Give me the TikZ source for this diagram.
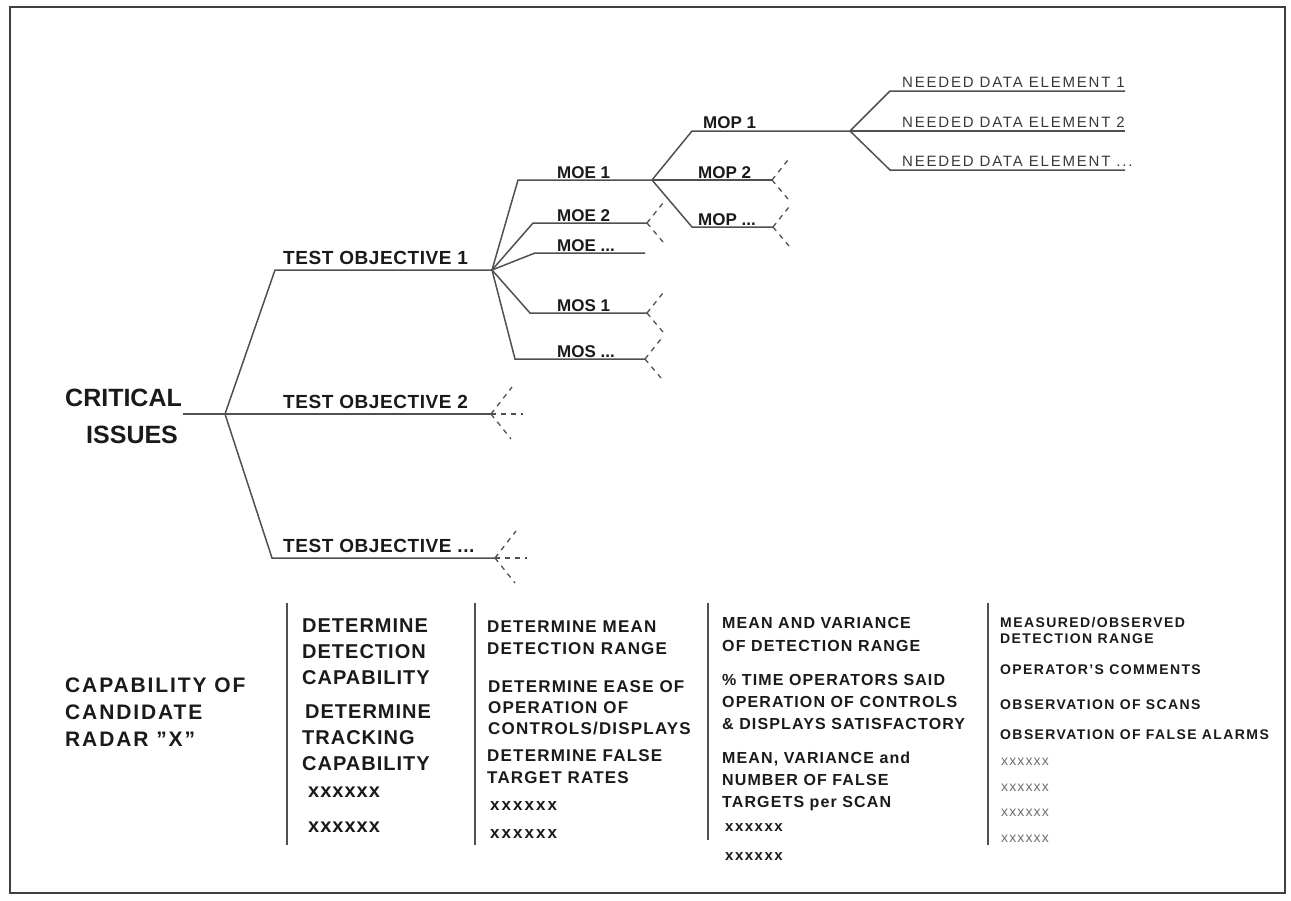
\documentclass[tikz,border=0pt]{standalone}
\usepackage{fontspec}
\setmainfont{Liberation Sans}[Ligatures=ResetAll]
\definecolor{ln}{HTML}{505050}
\definecolor{tx}{HTML}{1A1A1A}
\definecolor{nd}{HTML}{383838}
\definecolor{lx}{HTML}{6E6E6E}
\tikzset{
  br/.style={draw=ln, line width=1.5pt},
  stub/.style={draw=ln, line width=1.3pt, dash pattern=on 5pt off 5pt},
  sep/.style={draw=ln, line width=1.6pt},
  t/.style={anchor=base west, inner sep=0pt, text=tx},
  big/.style={t, font=\fontsize{25}{25}\selectfont\bfseries},
  tobj/.style={t, font=\fontsize{19}{19}\selectfont\bfseries\addfontfeatures{LetterSpace=3}},
  mo/.style={t, font=\fontsize{17}{17}\selectfont\bfseries},
  nded/.style={t, text=nd, font=\fontsize{15}{15}\selectfont\addfontfeatures{LetterSpace=12}},
  capb/.style={t, font=\fontsize{21}{21}\selectfont\bfseries\addfontfeatures{LetterSpace=9}},
  colA/.style={t, font=\fontsize{20}{20}\selectfont\bfseries\addfontfeatures{LetterSpace=5}},
  colB/.style={t, font=\fontsize{17}{17}\selectfont\bfseries\addfontfeatures{LetterSpace=7}},
  colBx/.style={t, font=\fontsize{17}{17}\selectfont\bfseries\addfontfeatures{LetterSpace=12}},
  colC/.style={t, font=\fontsize{16}{16}\selectfont\bfseries\addfontfeatures{LetterSpace=7}},
  colCx/.style={t, font=\fontsize{15}{15}\selectfont\bfseries\addfontfeatures{LetterSpace=10}},
  colD/.style={t, font=\fontsize{14}{14}\selectfont\bfseries\addfontfeatures{LetterSpace=10}},
  colDx/.style={t, text=lx, font=\fontsize{14}{14}\selectfont\addfontfeatures{LetterSpace=8}},
}
\begin{document}
\begin{tikzpicture}[x=1pt,y=-1pt]
\useasboundingbox (0,0) rectangle (1291,900);
\draw[draw=ln!80!black, line width=1.6pt] (10,7) rectangle (1285,893);

% ---------- tree coordinates ----------
\coordinate (r0) at (183,414);
\coordinate (j0) at (225,414);
\coordinate (c1) at (275,270);
\coordinate (j1) at (492,270);
\coordinate (e2) at (491,414);
\coordinate (c3) at (272,558);
\coordinate (e3) at (495,558);

\coordinate (m1c) at (518,180);
\coordinate (j2)  at (652,180);
\coordinate (m2c) at (533,223);
\coordinate (m2e) at (647,223);
\coordinate (m3c) at (535,253);
\coordinate (m3e) at (645,253);
\coordinate (s1c) at (530,313);
\coordinate (s1e) at (647,313);
\coordinate (s2c) at (515,359);
\coordinate (s2e) at (645,359);

\coordinate (p1c) at (692,131);
\coordinate (j3)  at (850,131);
\coordinate (p2e) at (772,180);
\coordinate (p3c) at (692,227);
\coordinate (p3e) at (773,227);

\coordinate (n1c) at (890,91);
\coordinate (n1e) at (1125,91);
\coordinate (n2e) at (1125,131);
\coordinate (n3c) at (890,170);
\coordinate (n3e) at (1125,170);

% ---------- branches ----------
\draw[br] (r0) -- (j0);
\draw[br] (j0) -- (c1) -- (j1);
\draw[br] (j0) -- (e2);
\draw[br] (j0) -- (c3) -- (e3);

\draw[br] (j1) -- (m1c) -- (j2);
\draw[br] (j1) -- (m2c) -- (m2e);
\draw[br] (j1) -- (m3c) -- (m3e);
\draw[br] (j1) -- (s1c) -- (s1e);
\draw[br] (j1) -- (s2c) -- (s2e);

\draw[br] (j2) -- (p1c) -- (j3);
\draw[br] (j2) -- (p2e);
\draw[br] (j2) -- (p3c) -- (p3e);

\draw[br] (j3) -- (n1c) -- (n1e);
\draw[br] (j3) -- (n2e);
\draw[br] (j3) -- (n3c) -- (n3e);

% ---------- dashed continuation stubs ----------
\foreach \e in {e2,e3}{
  \draw[stub] (\e) -- ++(21,-27);
  \draw[stub] (\e) -- ++(32,0);
  \draw[stub] (\e) -- ++(20,25);
}
\foreach \e in {m2e,s1e,s2e,p2e,p3e}{
  \draw[stub] (\e) -- ++(16,-20);
  \draw[stub] (\e) -- ++(16,19);
}

% ---------- tree labels ----------
\node[big] (crit) at (65,406) {CRITICAL};
\node[big] (iss)  at (86,443) {ISSUES};
\node[tobj] (to1) at (283,264) {TEST OBJECTIVE 1};
\node[tobj] (to2) at (283,408) {TEST OBJECTIVE 2};
\node[tobj] (to3) at (283,552) {TEST OBJECTIVE ...};

\node[mo] (moe1) at (557,178) {MOE 1};
\node[mo] (moe2) at (557,221) {MOE 2};
\node[mo] (moe3) at (557,251) {MOE ...};
\node[mo] (mos1) at (557,311) {MOS 1};
\node[mo] (mos2) at (557,357) {MOS ...};
\node[mo] (mop1) at (703,128) {MOP 1};
\node[mo] (mop2) at (698,178) {MOP 2};
\node[mo] (mop3) at (698,225) {MOP ...};

\node[nded] (nd1) at (902,87)  {NEEDED DATA ELEMENT 1};
\node[nded] (nd2) at (902,127) {NEEDED DATA ELEMENT 2};
\node[nded] (nd3) at (902,166) {NEEDED DATA ELEMENT ...};

% ---------- bottom table ----------
\node[capb] (cap1) at (65,692) {CAPABILITY OF};
\node[capb] (cap2) at (65,719) {CANDIDATE};
\node[capb] (cap3) at (65,746) {RADAR "X"};

\coordinate (v1a) at (287,603); \coordinate (v1b) at (287,845);
\coordinate (v2a) at (475,603); \coordinate (v2b) at (475,845);
\coordinate (v3a) at (708,603); \coordinate (v3b) at (708,840);
\coordinate (v4a) at (988,603); \coordinate (v4b) at (988,845);
\draw[sep] (v1a) -- (v1b);
\draw[sep] (v2a) -- (v2b);
\draw[sep] (v3a) -- (v3b);
\draw[sep] (v4a) -- (v4b);

% column 1
\node[colA] (a1) at (302,632) {DETERMINE};
\node[colA] (a2) at (302,658) {DETECTION};
\node[colA] (a3) at (302,684) {CAPABILITY};
\node[colA] (a4) at (305,718) {DETERMINE};
\node[colA] (a5) at (302,744) {TRACKING};
\node[colA] (a6) at (302,770) {CAPABILITY};
\node[colA] (a7) at (308,797) {xxxxxx};
\node[colA] (a8) at (308,832) {xxxxxx};

% column 2
\node[colB] (b1) at (487,632) {DETERMINE MEAN};
\node[colB] (b2) at (487,654) {DETECTION RANGE};
\node[colB] (b3) at (488,692) {DETERMINE EASE OF};
\node[colB] (b4) at (488,713) {OPERATION OF};
\node[colB] (b5) at (488,734) {CONTROLS/DISPLAYS};
\node[colB] (b6) at (487,761) {DETERMINE FALSE};
\node[colB] (b7) at (487,783) {TARGET RATES};
\node[colBx] (b8) at (490,810) {xxxxxx};
\node[colBx] (b9) at (490,838) {xxxxxx};

% column 3
\node[colC] (c31) at (722,628) {MEAN AND VARIANCE};
\node[colC] (c32) at (722,651) {OF DETECTION RANGE};
\node[colC] (c33) at (722,685) {\% TIME OPERATORS SAID};
\node[colC] (c34) at (722,707) {OPERATION OF CONTROLS};
\node[colC] (c35) at (722,729) {\& DISPLAYS SATISFACTORY};
\node[colC] (c36) at (722,763) {MEAN, VARIANCE and};
\node[colC] (c37) at (722,785) {NUMBER OF FALSE};
\node[colC] (c38) at (722,807) {TARGETS per SCAN};
\node[colCx] (c39) at (725,831) {xxxxxx};
\node[colCx] (c310) at (725,860) {xxxxxx};

% column 4
\node[colD] (d1) at (1000,627) {MEASURED/OBSERVED};
\node[colD] (d2) at (1000,643) {DETECTION RANGE};
\node[colD] (d3) at (1000,674) {OPERATOR'S COMMENTS};
\node[colD] (d4) at (1000,709) {OBSERVATION OF SCANS};
\node[colD] (d5) at (1000,739) {OBSERVATION OF FALSE ALARMS};
\node[colDx] (d6) at (1001,765) {xxxxxx};
\node[colDx] (d7) at (1001,791) {xxxxxx};
\node[colDx] (d8) at (1001,816) {xxxxxx};
\node[colDx] (d9) at (1001,842) {xxxxxx};
\end{tikzpicture}
\end{document}
